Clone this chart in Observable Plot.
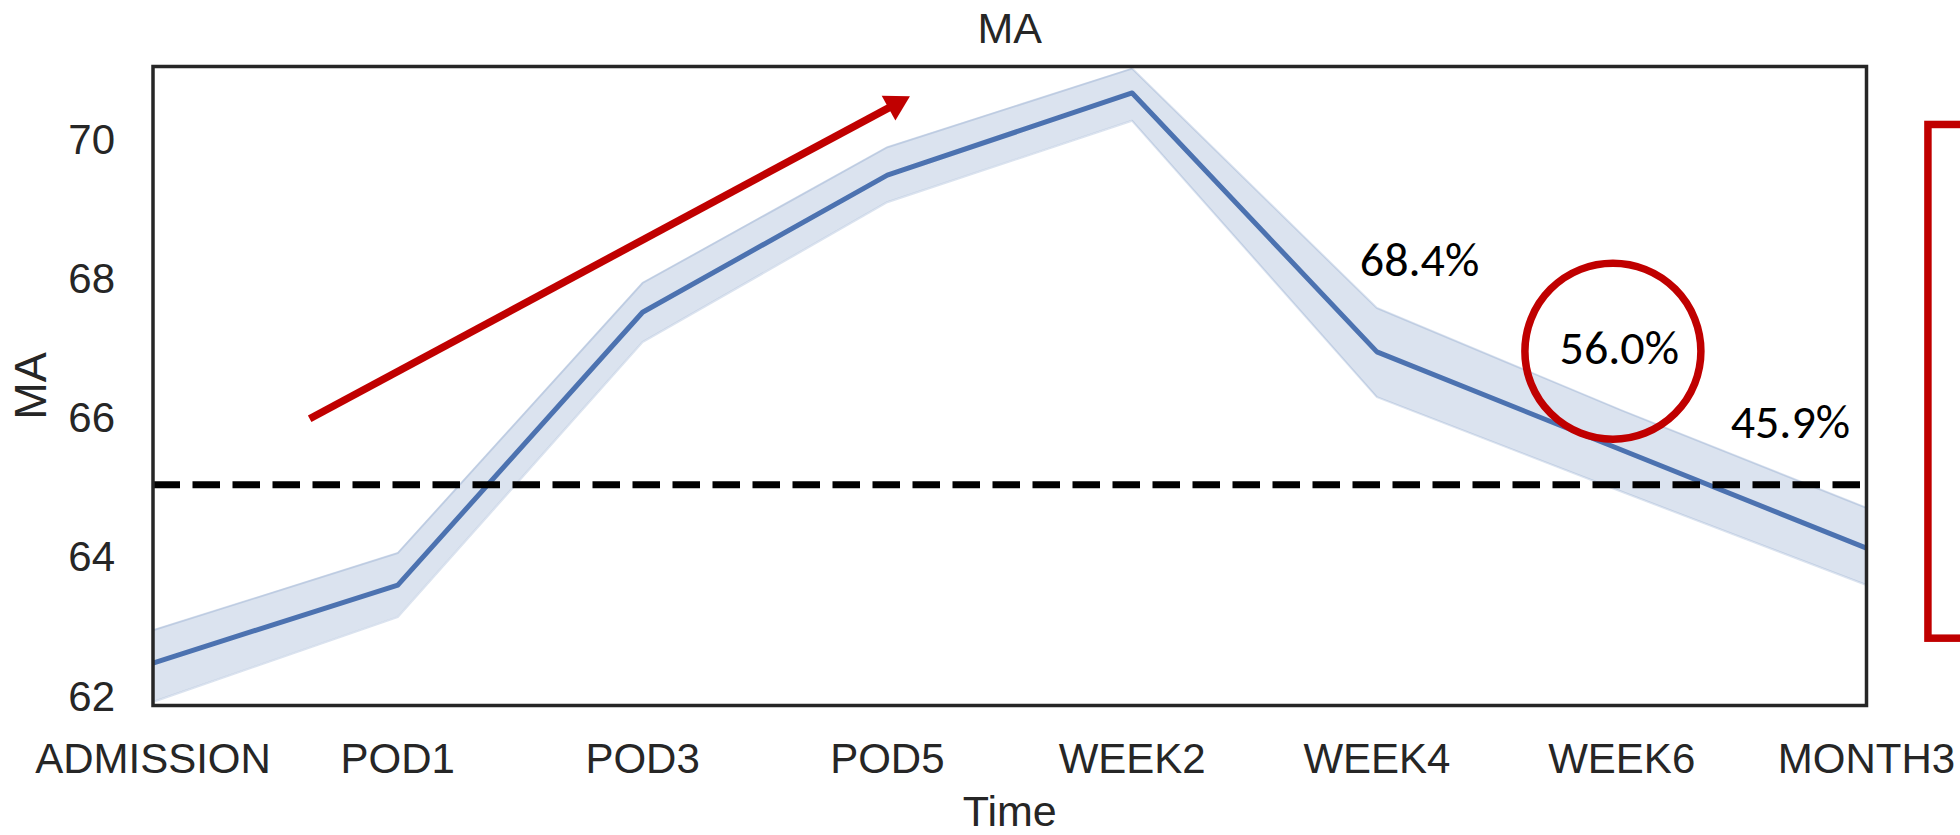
<!DOCTYPE html>
<html>
<head>
<meta charset="utf-8">
<script src="https://cdn.jsdelivr.net/npm/d3@7"></script>
<script src="https://cdn.jsdelivr.net/npm/@observablehq/plot@0.6"></script>
<style>
  html, body { margin: 0; padding: 0; background: #fff; }
  #chart svg { display: block; }
</style>
</head>
<body>
<div id="chart"></div>
<script>
// ---- data ----
const categories = ["ADMISSION", "POD1", "POD3", "POD5", "WEEK2", "WEEK4", "WEEK6", "MONTH3"];
const maMean  = [62.49, 63.61, 67.53, 69.50, 70.68, 66.96, 65.55, 64.14];
const maLower = [61.93, 63.15, 67.10, 69.11, 70.28, 66.31, 64.95, 63.61];
const maUpper = [62.96, 64.07, 67.95, 69.90, 71.03, 67.59, 66.12, 64.72];
const yTicks = [62, 64, 66, 68, 70];
const referenceLine = [65.05];

// annotations (in data coordinates: x = category index, y = MA)
const pctLabels = ["68.4%", "56.0%", "45.9%"];
const pctX = [5.174, 5.990, 6.689];
const pctY = [68.27, 67.01, 65.94];
const arrowShaft = [{x1: 0.64, y1: 66.0, x2: 3.034, y2: 70.52}];
const arrowHead = [{x: 3.034, y: 70.52}];
const circleAnno = [{x: 5.964, y: 66.97}];
const sideBox = [{x1: 7.253, x2: 8.3, y1: 62.84, y2: 70.22}];

const rows = categories.map((c, i) => ({i, c, mean: maMean[i], lo: maLower[i], hi: maUpper[i]}));

const blue = "#4c72b0";
const red = "#c00000";
const ink = "#262626";

const chart = Plot.plot({
  width: 1960,
  height: 835,
  marginLeft: 152.5,
  marginRight: 94,
  marginTop: 66,
  marginBottom: 130,
  style: {
    fontFamily: "'Liberation Sans', Arial, sans-serif",
    fontSize: "42px",
    color: ink,
    background: "#fff"
  },
  x: {type: "linear", domain: [0, categories.length - 1]},
  y: {domain: [61.88, 71.06]},
  marks: [
    Plot.areaY(rows, {x: "i", y1: "lo", y2: "hi", fill: blue, fillOpacity: 0.2, clip: true}),
    Plot.lineY(rows, {x: "i", y: "lo", stroke: blue, strokeOpacity: 0.2, strokeWidth: 2, clip: true}),
    Plot.lineY(rows, {x: "i", y: "hi", stroke: blue, strokeOpacity: 0.2, strokeWidth: 2, clip: true}),
    Plot.lineY(rows, {x: "i", y: "mean", stroke: blue, strokeWidth: 5, clip: true}),
    Plot.ruleY(referenceLine, {stroke: "#000", strokeWidth: 7, strokeDasharray: "27.5,12.5"}),
    Plot.axisX({ticks: d3.range(categories.length), tickFormat: i => categories[i], tickSize: 0, tickPadding: 38, label: null}),
    Plot.axisY({ticks: yTicks, tickFormat: d => String(d), tickSize: 0, tickPadding: 38, label: null}),
    Plot.frame({stroke: ink, strokeWidth: 3.5}),
    // titles
    Plot.text(["MA"], {frameAnchor: "top", dy: -23.3, lineAnchor: "bottom", fontSize: 43, fill: ink}),
    Plot.text(["MA"], {frameAnchor: "left", dx: -121.5, rotate: -90, textAnchor: "middle", lineAnchor: "middle", fontSize: 45, fill: ink}),
    Plot.text(["Time"], {frameAnchor: "bottom", dy: 120, lineAnchor: "bottom", fontSize: 43, fill: ink}),
    // annotations
    Plot.text(pctLabels, {x: (d, i) => pctX[i], y: (d, i) => pctY[i], fontFamily: "Carlito, Calibri, Lato, sans-serif", fontSize: 48, fill: "#000"}),
    Plot.dot(circleAnno, {x: "x", y: "y", r: 88, stroke: red, strokeWidth: 7.5, fill: "none"}),
    Plot.link(arrowShaft, {x1: "x1", y1: "y1", x2: "x2", y2: "y2", stroke: red, strokeWidth: 7.5}),
    Plot.dot(arrowHead, {x: "x", y: "y", symbol: "triangle", r: 10.5, fill: red, stroke: "none", rotate: 61}),
    Plot.rect(sideBox, {x1: "x1", x2: "x2", y1: "y1", y2: "y2", stroke: red, strokeWidth: 7.5, fill: "none"})
  ]
});

document.getElementById("chart").appendChild(chart);
</script>
</body>
</html>
